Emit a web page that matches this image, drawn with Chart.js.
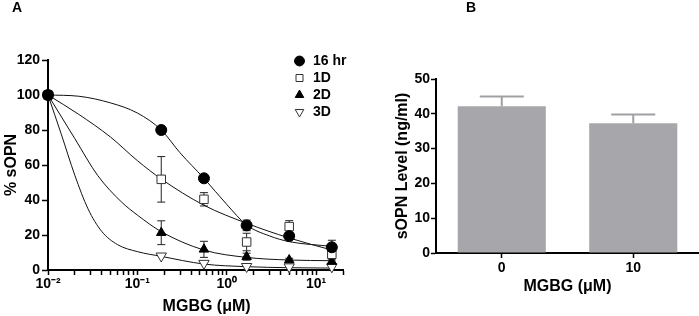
<!DOCTYPE html>
<html>
<head>
<meta charset="utf-8">
<script src="https://cdn.jsdelivr.net/npm/chart.js@4.4.0/dist/chart.umd.min.js"></script>
<style>
  html, body { margin: 0; padding: 0; background: #fff; }
  #wrap { position: relative; width: 699px; height: 316px; overflow: hidden; }
  .panel { position: absolute; top: 0; height: 316px; }
  #boxA { left: 0; width: 360px; }
  #boxB { left: 360px; width: 339px; }
  .tag { position: absolute; top: 0; font: bold 14px "Liberation Sans", Arial, sans-serif; line-height: 14px; }
</style>
</head>
<body>
<div id="wrap">
  <div class="panel" id="boxA"><canvas id="chartA"></canvas></div>
  <div class="panel" id="boxB"><canvas id="chartB"></canvas></div>
  <div class="tag" style="left:12px">A</div>
  <div class="tag" style="left:466px">B</div>
</div>
<script>
// ---- panel A: dose response (measured points) ----
const doses = [0.01, 0.185, 0.556, 1.67, 5, 15];
const hr16 = [100, 80, 52.4, 25.5, 19.4, 13];
const d1 = [100, 51.8, 40.4, 16, 24.8, 9];
const d2 = [100, 21.3, 11.8, 7.6, 5.7, 4.8];
const d3 = [100, 8, 3.8, 2, 1.8, 1.8];
const hr16Err = [0, 0, 0, 3, 1.5, 4];
const d1Err = [0, 13, 3.8, 5, 3.4, 2.5];
const d2Err = [0, 6.8, 4.6, 2, 1, 1];
const d3Err = [0, 0, 0, 0, 0, 0];

// fitted curves
const fit16X = [0.01, 0.022, 0.05, 0.1, 0.185, 0.3, 0.556, 1, 1.67, 3, 5, 15];
const fit16Y = [100, 99.3, 95.5, 89.7, 80, 67, 52.4, 37.5, 25.7, 19.5, 16.2, 13.5];
const fit1X = [0.01, 0.022, 0.05, 0.1, 0.185, 0.556, 1.67, 5, 15];
const fit1Y = [100, 89, 76, 62.5, 52, 37, 26.7, 18.3, 11.4];
const fit2X = [0.01, 0.02, 0.036, 0.066, 0.1, 0.185, 0.556, 1.67, 5, 15];
const fit2Y = [100, 75, 54, 39, 31.4, 21.9, 11.4, 7.2, 5.7, 5.3];
const fit3X = [0.01, 0.014, 0.02, 0.028, 0.04, 0.06, 0.1, 0.185, 0.556, 1.67, 5, 15];
const fit3Y = [100, 78, 54, 35, 22, 14.5, 10.5, 7.8, 3.4, 1.9, 1.3, 1.1];

const xMajor = [0.01, 0.1, 1, 10];
const xMajorLabels = ['10\u207B\u00B2', '10\u207B\u00B9', '10\u2070', '10\u00B9'];

// ---- panel B: bars ----
const bCats = ['0', '10'];
const bVals = [42.2, 37.3];
const bErr = [2.8, 2.5];

Chart.defaults.font.family = '"Liberation Sans", Arial, sans-serif';
Chart.defaults.font.weight = 'bold';
Chart.defaults.font.size = 14;
Chart.defaults.color = '#000';

const pts = (xs, ys) => xs.map((x, i) => ({ x: x, y: ys[i] }));

// minor ticks 2..9 per decade, up to axis max
const xMax = 20;
const xTicks = [];
xMajor.forEach(m => {
  for (let k = 1; k <= 9; k++) {
    if (m * k <= xMax) xTicks.push(k === 1 ? m : m * k);
  }
});

const series = [
  { y: hr16, err: hr16Err },
  { y: d1, err: d1Err },
  { y: d2, err: d2Err },
  { y: d3, err: d3Err }
];

const errorBarsA = {
  id: 'errorBarsA',
  beforeDatasetsDraw(chart) {
    const { ctx, scales: { x, y } } = chart;
    ctx.save();
    ctx.strokeStyle = '#222';
    ctx.lineWidth = 1;
    series.forEach(s => {
      s.y.forEach((v, i) => {
        const e = s.err[i];
        if (!e) return;
        const px = x.getPixelForValue(doses[i]);
        const top = y.getPixelForValue(v + e);
        const bot = y.getPixelForValue(Math.max(v - e, 0));
        ctx.beginPath();
        ctx.moveTo(px, top); ctx.lineTo(px, bot);
        ctx.moveTo(px - 4, top); ctx.lineTo(px + 4, top);
        ctx.moveTo(px - 4, bot); ctx.lineTo(px + 4, bot);
        ctx.stroke();
      });
    });
    ctx.restore();
  }
};

// put the legend at the top right, inside the plot
const moveLegend = {
  id: 'moveLegend',
  afterLayout(chart) {
    const lg = chart.legend;
    lg.left = 290;
    lg.right = 360;
    lg.top = 51;
    lg.bottom = 270;
  }
};

const curve = (xs, ys) => ({
  type: 'line',
  data: pts(xs, ys),
  borderColor: '#111',
  borderWidth: 1,
  pointRadius: 0,
  cubicInterpolationMode: 'monotone',
  fill: false
});

new Chart(document.getElementById('chartA'), {
  type: 'scatter',
  data: {
    datasets: [
      { label: '16 hr', data: pts(doses, hr16), pointStyle: 'circle', pointRadius: 5.5,
        backgroundColor: '#000', borderColor: '#000', borderWidth: 1, clip: false },
      { label: '1D', data: pts(doses, d1), pointStyle: 'rect', pointRadius: 6,
        backgroundColor: '#fff', borderColor: '#333', borderWidth: 1, clip: false },
      { label: '2D', data: pts(doses, d2), pointStyle: 'triangle', pointRadius: 5.5,
        backgroundColor: '#000', borderColor: '#000', borderWidth: 1, clip: false },
      { label: '3D', data: pts(doses, d3), pointStyle: 'triangle', pointRotation: 180, pointRadius: 6,
        backgroundColor: '#fff', borderColor: '#333', borderWidth: 1, clip: false },
      curve(fit16X, fit16Y),
      curve(fit1X, fit1Y),
      curve(fit2X, fit2Y),
      curve(fit3X, fit3Y)
    ]
  },
  options: {
    animation: false,
    responsive: true,
    maintainAspectRatio: false,
    layout: { padding: { left: 2.4, top: 60, right: 17, bottom: 0 } },
    plugins: {
      tooltip: { enabled: false },
      legend: {
        position: 'chartArea',
        align: 'start',
        labels: {
          usePointStyle: true,
          boxWidth: 13,
          boxHeight: 7,
          padding: 3,
          color: '#000',
          font: { size: 14, weight: 'bold' },
          filter: item => item.datasetIndex < 4
        }
      }
    },
    scales: {
      x: {
        type: 'logarithmic',
        min: 0.01,
        max: xMax,
        afterBuildTicks: s => { s.ticks = xTicks.map(v => ({ value: v })); },
        ticks: {
          autoSkip: false,
          maxRotation: 0,
          padding: 1,
          font: { size: 14, weight: 'bold' },
          callback: v => {
            const i = xMajor.indexOf(v);
            return i < 0 ? '' : xMajorLabels[i];
          }
        },
        grid: { drawOnChartArea: false, tickLength: 5, tickColor: '#000', tickWidth: 1.5 },
        border: { color: '#000', width: 2 },
        title: { display: true, text: '\u00a0\u00a0\u00a0\u00a0\u00a0MGBG (\u03bcM)',
          font: { size: 16, weight: 'bold' }, padding: { top: 0, bottom: 0 } },
        afterFit: s => { s.height = 46; }
      },
      y: {
        min: 0,
        max: 120,
        ticks: { stepSize: 20, padding: 2, font: { size: 14, weight: 'bold' } },
        grid: { drawOnChartArea: false, tickLength: 6, tickColor: '#000', tickWidth: 1.5 },
        border: { color: '#000', width: 2 },
        title: { display: true, text: '% sOPN', font: { size: 16, weight: 'bold' },
          padding: { top: 0, bottom: 0 } },
        afterFit: s => { s.width = 45.6; }
      }
    }
  },
  plugins: [errorBarsA, moveLegend]
});

const errorBarsB = {
  id: 'errorBarsB',
  afterDatasetsDraw(chart) {
    const { ctx, scales: { x, y } } = chart;
    ctx.save();
    ctx.strokeStyle = '#a0a0a4';
    ctx.lineWidth = 2;
    bVals.forEach((v, i) => {
      const px = x.getPixelForValue(i);
      const top = y.getPixelForValue(v + bErr[i]);
      const base = y.getPixelForValue(v);
      ctx.beginPath();
      ctx.moveTo(px, base); ctx.lineTo(px, top);
      ctx.moveTo(px - 22, top); ctx.lineTo(px + 22, top);
      ctx.stroke();
    });
    ctx.restore();
  }
};

new Chart(document.getElementById('chartB'), {
  type: 'bar',
  data: {
    labels: bCats,
    datasets: [{
      data: bVals,
      backgroundColor: '#a7a7ab',
      borderWidth: 0,
      barPercentage: 0.67,
      categoryPercentage: 1
    }]
  },
  options: {
    animation: false,
    responsive: true,
    maintainAspectRatio: false,
    layout: { padding: { left: 33.4, top: 79, right: 0, bottom: 0 } },
    plugins: { legend: { display: false }, tooltip: { enabled: false } },
    scales: {
      x: {
        ticks: { padding: 2, font: { size: 14, weight: 'bold' } },
        grid: { drawOnChartArea: false, offset: false, tickLength: 5, tickColor: '#000', tickWidth: 1.5 },
        border: { color: '#000', width: 2 },
        title: { display: true, text: 'MGBG (\u03bcM)', font: { size: 16, weight: 'bold' },
          padding: { top: 0, bottom: 19.7 } },
        afterFit: s => { s.height = 63; }
      },
      y: {
        min: 0,
        max: 50,
        ticks: { stepSize: 10, padding: 1, font: { size: 14, weight: 'bold' } },
        grid: { drawOnChartArea: false, tickLength: 5, tickColor: '#000', tickWidth: 1.5 },
        border: { color: '#000', width: 2 },
        title: { display: true, text: 'sOPN Level (ng/ml)', font: { size: 16, weight: 'bold' },
          padding: { top: 0, bottom: 0 } },
        afterFit: s => { s.width = 42.6; }
      }
    }
  },
  plugins: [errorBarsB]
});
</script>
</body>
</html>
